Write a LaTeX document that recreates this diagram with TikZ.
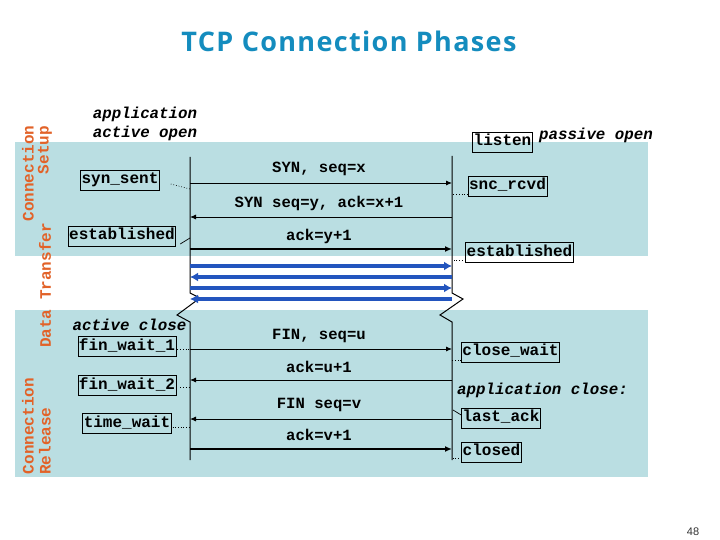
\documentclass[tikz,border=0pt]{standalone}
\usepackage{fontspec}
\setmonofont{Liberation Mono}
\newfontfamily\titlefont[LetterSpace=5]{Open Sans}
\newfontfamily\numfont{Liberation Sans}
\usetikzlibrary{arrows.meta}
\definecolor{band}{RGB}{186,222,226}
\definecolor{msgblue}{RGB}{35,85,190}
\definecolor{phase}{RGB}{226,98,40}
\definecolor{titleblue}{RGB}{20,140,190}
\begin{document}
\begin{tikzpicture}[x=1pt,y=-1pt,
  mono/.style={font=\fontsize{16}{18}\selectfont\ttfamily\bfseries},
  state/.style={mono, draw=black, line width=0.8pt, inner xsep=1pt, inner ysep=1.5pt, text height=12pt, text depth=5pt},
  ital/.style={font=\fontsize{15.8}{19}\selectfont\ttfamily\bfseries\itshape, inner sep=0pt, align=center},
  lbl/.style={font=\fontsize{15.6}{18}\selectfont\ttfamily\bfseries, inner sep=0pt},
  msg/.style={line width=0.9pt, -{Latex[length=6pt,width=5pt]}},
  thickmsg/.style={line width=2.2pt, -{Latex[length=7pt,width=6pt]}},
  data/.style={line width=3.5pt, draw=msgblue, -{Latex[length=8pt,width=9pt]}},
  phaselbl/.style={font=\fontsize{16}{16}\selectfont\ttfamily\bfseries, text=phase, rotate=90, inner sep=0pt},
  tie/.style={line width=0.7pt, dotted},
  slant/.style={line width=0.7pt},
  timeline/.style={line width=1pt}
]
\fill[white] (0,0) rectangle (720,540);
\useasboundingbox (0,0) rectangle (720,540);

% phase bands
\fill[band] (15,142) rectangle (648,256);
\fill[band] (15,310) rectangle (648,477);

% title
\node[font=\fontsize{27}{30}\selectfont\titlefont\bfseries, text=titleblue, anchor=base] (title) at (349,52) {TCP Connection Phases};

% phase labels
\node[phaselbl] (ph1) at (28,173.5) {Connection};
\node[phaselbl] (ph2) at (45,150) {Setup};
\node[phaselbl] (ph3) at (45,285.5) {Data Transfer};
\node[phaselbl] (ph4) at (28,426) {Connection};
\node[phaselbl] (ph5) at (45,441) {Release};

% timeline coordinates
\coordinate (LT) at (190,157);
\coordinate (LA) at (190,293);
\coordinate (LB) at (200,298);
\coordinate (LC) at (177,315);
\coordinate (LD) at (190,322);
\coordinate (LE) at (190,460);
\coordinate (RT) at (452,156);
\coordinate (RA) at (452,293);
\coordinate (RB) at (463,299);
\coordinate (RC) at (440,315);
\coordinate (RD) at (452,322);
\coordinate (RE) at (452,460);
\draw[timeline] (LT) -- (LA) -- (LB) -- (LC) -- (LD) -- (LE);
\draw[timeline] (RT) -- (RA) -- (RB) -- (RC) -- (RD) -- (RE);

% message endpoints
\foreach \n/\y in {1/183,2/217,3/249,4/266,5/277,6/288,7/299,8/349,9/380,10/419,11/449}{
  \coordinate (L\n) at (190,\y);
  \coordinate (R\n) at (452,\y);
}
\draw[msg] (L1) -- (R1);
\draw[msg] (R2) -- (L2);
\draw[thickmsg] (L3) -- (R3);
\draw[data] (L4) -- (R4);
\draw[data] (R5) -- (L5);
\draw[data] (L6) -- (R6);
\draw[data] (R7) -- (L7);
\draw[msg] (L8) -- (R8);
\draw[msg] (R9) -- (L9);
\draw[msg] (R10) -- (L10);
\draw[thickmsg] (L11) -- (R11);

% message labels
\node[lbl] (m1) at (319,169) {SYN, seq=x};
\node[lbl] (m2) at (319,203) {SYN seq=y, ack=x+1};
\node[lbl] (m3) at (319,236) {ack=y+1};
\node[lbl] (m8) at (319,336) {FIN, seq=u};
\node[lbl] (m9) at (319,367) {ack=u+1};
\node[lbl] (m10) at (319,405) {FIN seq=v};
\node[lbl] (m11) at (319,435) {ack=v+1};

% italic notes
\node[ital] (actopen) at (145,123.5) {application\\active open};
\node[ital] (actclose) at (129.5,325) {active close};
\node[ital] (pasopen) at (596,135) {passive open};
\node[ital] (appclose) at (542.5,390) {application close:};

% client states
\node[state] (synsent) at (120,180) {syn\_sent};
\node[state] (estL) at (122,236) {established};
\node[state] (fw1) at (127,346.5) {fin\_wait\_1};
\node[state] (fw2) at (127,385.5) {fin\_wait\_2};
\node[state] (tw) at (127,423.5) {time\_wait};

% server states
\node[state] (listen) at (502.5,142) {listen};
\node[state] (sncrcvd) at (507.5,186) {snc\_rcvd};
\node[state] (estR) at (519.5,252.5) {established};
\node[state] (cw) at (510.5,352) {close\_wait};
\node[state] (lastack) at (501,418) {last\_ack};
\node[state] (closed) at (491.5,452) {closed};

% ties from states to timelines
\coordinate (tSyn) at (190,189);
\coordinate (tEstL) at (190,238);
\coordinate (tFw1) at (190,349);
\coordinate (tFw2) at (190,387);
\coordinate (tTw) at (190,427);
\coordinate (tSnc) at (452,194);
\coordinate (tEstR) at (452,260);
\coordinate (tCw) at (452,360);
\coordinate (tLa) at (453,410);
\coordinate (tCl) at (452,458);
\draw[tie] ([shift={(11,4)}]synsent.east) -- (tSyn);
\draw[slant] ([shift={(4,8)}]estL.east) -- (tEstL);
\draw[tie] ([shift={(1,2.5)}]fw1.east) -- (tFw1);
\draw[tie] ([shift={(4,1.5)}]fw2.east) -- (tFw2);
\draw[tie] ([shift={(1,3.5)}]tw.east) -- (tTw);
\draw[tie] ([shift={(0,8)}]sncrcvd.west) -- (tSnc);
\draw[tie] ([shift={(0,7.5)}]estR.west) -- (tEstR);
\draw[tie] ([shift={(0,8)}]cw.west) -- (tCw);
\draw[slant] ([shift={(0,-3)}]lastack.west) -- (tLa);
\draw[tie] ([shift={(0,6)}]closed.west) -- (tCl);

% page number
\node[font=\fontsize{11}{12}\selectfont\numfont, text=black!80] (pg) at (693,532) {48};
\end{tikzpicture}
\end{document}
